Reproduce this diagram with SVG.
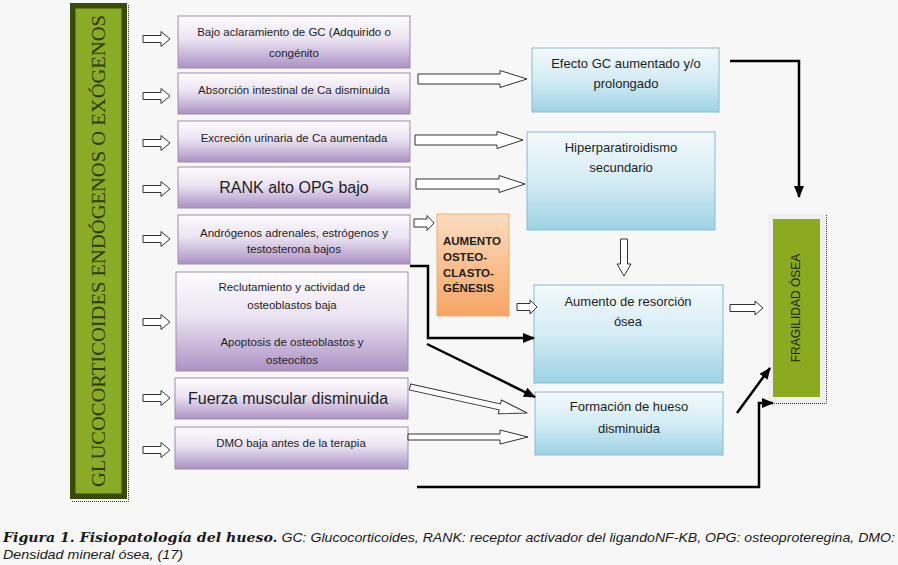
<svg xmlns="http://www.w3.org/2000/svg" width="898" height="565" viewBox="0 0 898 565">
<defs>
<linearGradient id="gp" x1="0" y1="0" x2="0" y2="1">
<stop offset="0" stop-color="#fdfcfe"/><stop offset="0.45" stop-color="#ebe3f2"/><stop offset="1" stop-color="#ab92c3"/>
</linearGradient>
<linearGradient id="gb" x1="0" y1="0" x2="0" y2="1">
<stop offset="0" stop-color="#f3f9fc"/><stop offset="0.5" stop-color="#d4ecf4"/><stop offset="1" stop-color="#9dd2e5"/>
</linearGradient>
<linearGradient id="go" x1="0" y1="0" x2="0" y2="1">
<stop offset="0" stop-color="#fcdcc0"/><stop offset="1" stop-color="#f5a563"/>
</linearGradient>
<marker id="ah" viewBox="0 0 12 10" refX="11" refY="5" markerWidth="12" markerHeight="10" markerUnits="userSpaceOnUse" orient="auto">
<path d="M0,0 L12,5 L0,10 Z" fill="#000"/>
</marker>
<path id="la" d="M0,-3.5 H18 V-7.5 L27,0 L18,7.5 V3.5 H0 Z"/>
<style>
.pb{fill:url(#gp);stroke:#9d8cae;stroke-width:1}
.bb{fill:url(#gb);stroke:#86bcd0;stroke-width:1}
.t{font-family:"Liberation Sans",Arial,sans-serif;font-size:11.5px;fill:#1e1e1e;text-anchor:middle}
.tr{font-family:"Liberation Sans",Arial,sans-serif;font-size:13px;fill:#1e1e1e;text-anchor:middle}
.tb{font-family:"Liberation Sans",Arial,sans-serif;font-size:16px;fill:#1e1e1e;text-anchor:middle}
.ha{fill:#fff;stroke:#333;stroke-width:1}
.bl{fill:none;stroke:#000;stroke-width:2.5;marker-end:url(#ah)}
.dot{fill:none;stroke:#333;stroke-width:1;stroke-dasharray:1,1}
</style>
</defs>
<rect width="898" height="565" fill="#f7f7f7"/>

<g id="gluco">
<polyline class="dot" points="128.5,5 128.5,501.5 72,501.5"/>
<rect x="70" y="3" width="57" height="496" fill="#3a4a0b"/>
<rect x="75.5" y="8.5" width="46" height="485" fill="#8aab25"/>
<text x="0" y="0" transform="translate(105,251) rotate(-90)" font-family="'Liberation Serif','Times New Roman',serif" font-size="18" fill="#2d3a08" text-anchor="middle" textLength="472" lengthAdjust="spacingAndGlyphs">GLUCOCORTICOIDES  ENDÓGENOS  O  EXÓGENOS</text>
</g>

<g id="n1"><rect class="pb" x="178" y="16" width="232" height="52"/>
<text class="t" x="294" y="36">Bajo aclaramiento de GC (Adquirido o</text>
<text class="t" x="294" y="57">congénito</text></g>
<g id="n2"><rect class="pb" x="178" y="73" width="232" height="41"/>
<text class="t" x="294" y="94">Absorción intestinal de Ca disminuida</text></g>
<g id="n3"><rect class="pb" x="178" y="121" width="232" height="41"/>
<text class="t" x="294" y="142">Excreción urinaria de Ca aumentada</text></g>
<g id="n4"><rect class="pb" x="178" y="167" width="232" height="41"/>
<text class="tb" x="294" y="193">RANK alto OPG bajo</text></g>
<g id="n5"><rect class="pb" x="178" y="215" width="232" height="49"/>
<text class="t" x="294" y="237">Andrógenos adrenales, estrógenos y</text>
<text class="t" x="294" y="253">testosterona bajos</text></g>
<g id="n6"><rect class="pb" x="176" y="272" width="232" height="99"/>
<text class="t" x="292" y="291">Reclutamiento y actividad de</text>
<text class="t" x="292" y="309">osteoblastos baja</text>
<text class="t" x="292" y="346">Apoptosis de osteoblastos y</text>
<text class="t" x="292" y="364">osteocitos</text></g>
<g id="n7"><rect class="pb" x="175" y="378" width="233" height="41"/>
<text class="tb" x="288" y="404">Fuerza muscular disminuida</text></g>
<g id="n8"><rect class="pb" x="175" y="427" width="233" height="42"/>
<text class="t" x="291" y="447">DMO baja antes de la terapia</text></g>

<g id="efecto"><rect class="bb" x="532" y="48" width="187" height="64"/>
<text class="tr" x="626" y="68">Efecto GC aumentado y/o</text>
<text class="tr" x="626" y="88">prolongado</text></g>
<g id="hiper"><rect class="bb" x="527" y="132" width="188" height="98"/>
<text class="tr" x="621" y="152">Hiperparatiroidismo</text>
<text class="tr" x="621" y="172">secundario</text></g>
<g id="osteo"><rect x="437" y="214" width="72" height="102" fill="url(#go)" stroke="#f0b070" stroke-width="1"/>
<g font-family="'Liberation Sans',Arial,sans-serif" font-size="11.5" font-weight="bold" fill="#1e1e1e">
<text x="443" y="245">AUMENTO</text><text x="443" y="261">OSTEO-</text><text x="443" y="277">CLASTO-</text><text x="443" y="292">GÉNESIS</text></g></g>
<g id="resorcion"><rect class="bb" x="534" y="285" width="189" height="98"/>
<text class="tr" x="628" y="306">Aumento de resorción</text>
<text class="tr" x="628" y="326">ósea</text></g>
<g id="formacion"><rect class="bb" x="535" y="392" width="188" height="63"/>
<text class="tr" x="629" y="411">Formación de hueso</text>
<text class="tr" x="629" y="433">disminuida</text></g>
<g id="fragilidad">
<rect x="768" y="214" width="57" height="189" fill="#efefef"/>
<polyline class="dot" points="826.5,215 826.5,403.5 768,403.5"/>
<rect x="773" y="219" width="47" height="178" fill="#8aab1f"/>
<text x="0" y="0" transform="translate(800,308) rotate(-90)" font-family="'Liberation Sans',Arial,sans-serif" font-size="12" fill="#1e1e1e" text-anchor="middle">FRAGILIDAD  ÓSEA</text>
</g>

<g id="connectors">
<use href="#la" class="ha" x="143" y="39"/>
<use href="#la" class="ha" x="143" y="96"/>
<use href="#la" class="ha" x="143" y="143"/>
<use href="#la" class="ha" x="143" y="189"/>
<use href="#la" class="ha" x="143" y="239"/>
<use href="#la" class="ha" x="143" y="322"/>
<use href="#la" class="ha" x="143" y="398"/>
<use href="#la" class="ha" x="143" y="450"/>
<path class="ha" d="M418,74 H500 V70.5 L527,79 L500,87.5 V84 H418 Z"/>
<path class="ha" d="M415,135 H497 V131.5 L523,140 L497,148.5 V145 H415 Z"/>
<path class="ha" d="M416,179 H499 V175.5 L525,184 L499,192.5 V189 H416 Z"/>
<path class="ha" d="M414,219 H427 V215.5 L434,223 L427,230.5 V227 H414 Z"/>
<path class="ha" d="M620.5,239 V264 H617 L624,276 L631,264 H627.5 V239 Z"/>
<path class="ha" d="M517,303.5 H530 V300 L537,307 L530,314 V310.5 H517 Z"/>
<path class="ha" d="M730,304.5 H755 V301 L763,308 L755,315 V311.5 H730 Z"/>
<path class="ha" d="M0,-3 H92 V-7 L120,0 L92,7 V3 H0 Z" transform="translate(410,387) rotate(12.5)"/>
<path class="ha" d="M408,434 H500 V430 L528,437 L500,444 V440 H408 Z"/>
<polyline class="bl" stroke-width="1.8" points="730,61 799,61 799,197"/>
<polyline class="bl" points="410,266 428,266 428,338 534,338"/>
<line class="bl" x1="427" y1="344" x2="535" y2="397"/>
<line class="bl" x1="737" y1="413" x2="770" y2="368"/>
<polyline class="bl" stroke-width="3" points="417,487 759,487 759,403 773,403"/>
</g>

<g id="caption" font-style="italic" fill="#1a1a1a">
<text x="3" y="542" font-size="13.5" font-family="'Liberation Sans',Arial,sans-serif" textLength="892" lengthAdjust="spacingAndGlyphs"><tspan font-weight="bold" font-family="'DejaVu Serif','Liberation Serif',serif">Figura 1. Fisiopatología del hueso.</tspan> GC: Glucocorticoides, RANK: receptor activador del ligandoNF-KB, OPG: osteoproteregina, DMO:</text>
<text x="3" y="559" font-size="13.5" font-family="'Liberation Sans',Arial,sans-serif" textLength="180" lengthAdjust="spacingAndGlyphs">Densidad mineral ósea, (17)</text>
</g>
</svg>
